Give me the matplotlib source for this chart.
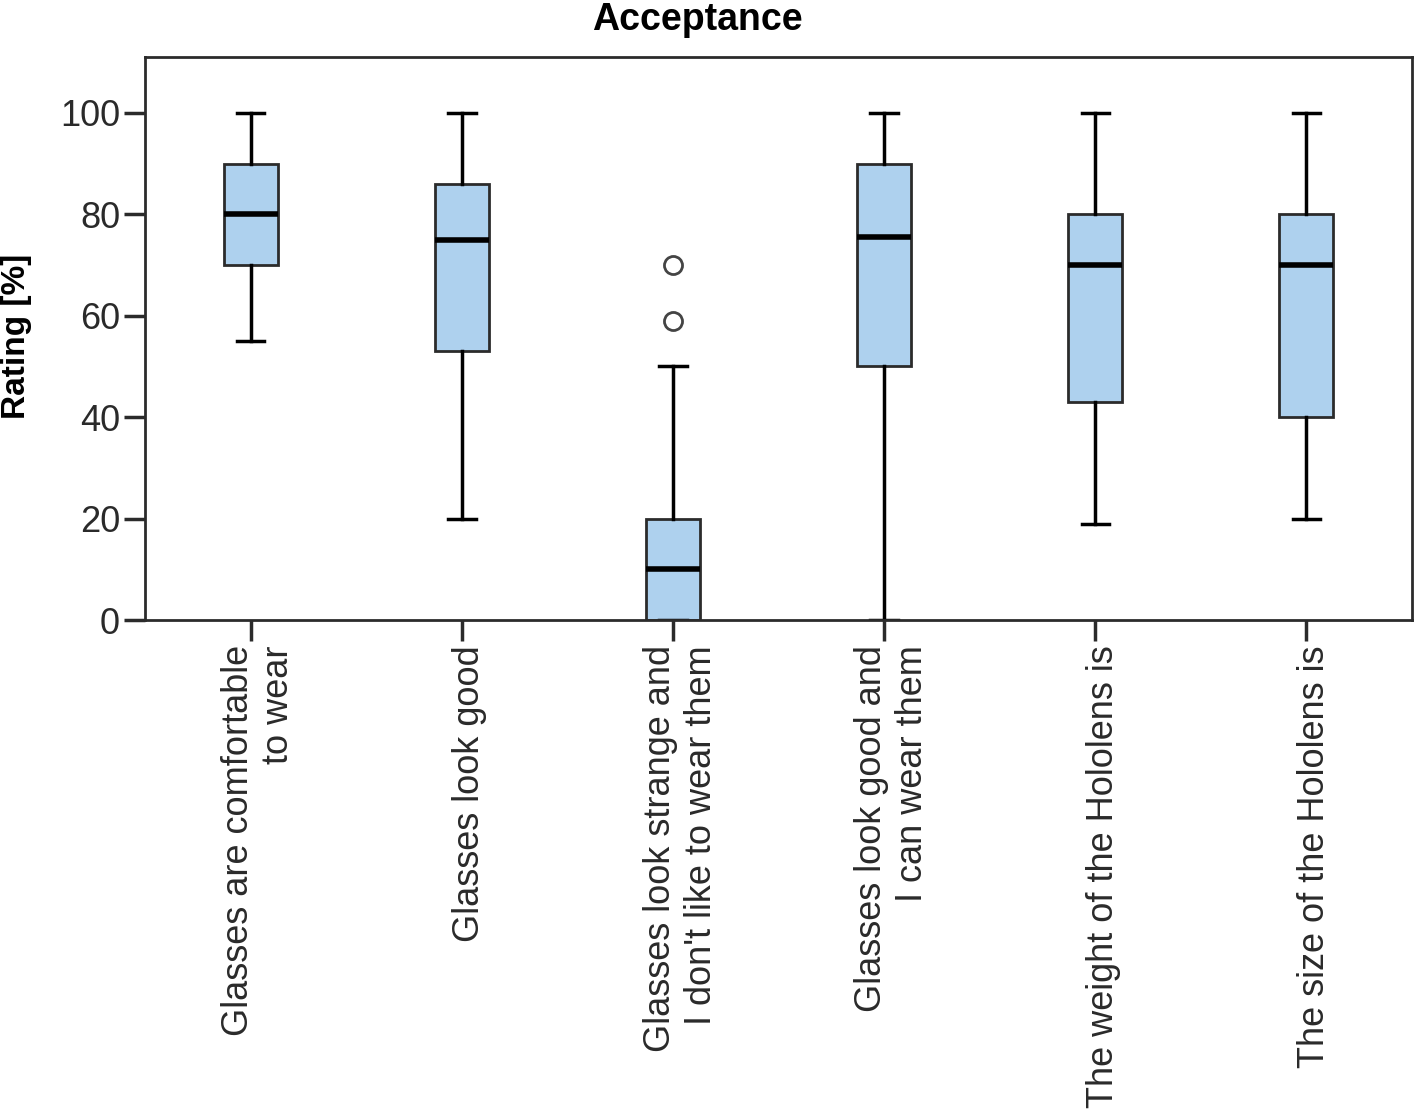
import matplotlib
matplotlib.use("Agg")
import matplotlib.pyplot as plt
import matplotlib.transforms as mtransforms

plt.rcParams['font.family'] = ['Liberation Sans', 'DejaVu Sans']

labels = [
    "Glasses are comfortable\nto wear",
    "Glasses look good",
    "Glasses look strange and\nI don't like to wear them",
    "Glasses look good and\nI can wear them",
    "The weight of the Hololens is",
    "The size of the Hololens is",
]
whislo = [55, 20, 0, 0, 19, 20]
q1 = [70, 53, 0, 50, 43, 40]
med = [80, 75, 10, 75.5, 70, 70]
q3 = [90, 86, 20, 90, 80, 80]
whishi = [100, 100, 50, 100, 100, 100]
fliers = [[], [], [59, 70], [], [], []]

stats = []
for i in range(len(labels)):
    stats.append(dict(whislo=whislo[i], q1=q1[i], med=med[i], q3=q3[i],
                      whishi=whishi[i], fliers=fliers[i], label=labels[i]))

fig = plt.figure(figsize=(14.18, 11.09), dpi=100)
ax = fig.add_axes([0.1023, 0.4409, 0.8935, 0.5077])

edge = "#2b2b2b"
ax.bxp(stats, widths=0.256, capwidths=0.13, patch_artist=True,
       boxprops=dict(facecolor="#aed1ee", edgecolor=edge, linewidth=2),
       medianprops=dict(color="black", linewidth=4),
       whiskerprops=dict(color="black", linewidth=2.5),
       capprops=dict(color="black", linewidth=2.5),
       flierprops=dict(marker="o", markersize=13, markerfacecolor="white",
                       markeredgecolor="#444444", markeredgewidth=2))

ax.set_xlim(0.5, 6.5)
ax.set_ylim(0, 111)
ax.set_yticks([0, 20, 40, 60, 80, 100])
for s in ax.spines.values():
    s.set_color(edge)
    s.set_linewidth(2)
ax.tick_params(axis="both", direction="out", length=15, width=2.5,
               color=edge, labelsize=26, labelcolor="#2a2a2a", pad=3)
ax.set_xticklabels(labels, rotation=90, ha="center", va="top",
                   multialignment="right")
# nudge the rotated labels a little to the right, as in the original
shift = mtransforms.ScaledTranslation(0.08, 0, fig.dpi_scale_trans)
for t in ax.get_xticklabels():
    t.set_transform(t.get_transform() + shift)

ax.set_ylabel("Rating [%]", fontsize=24, fontweight="bold")
ax.yaxis.set_label_coords(-0.089, 0.503)
fig.text(0.492, 0.982, "Acceptance", fontsize=27, fontweight="bold",
         ha="center", va="center")

fig.savefig("out.png", dpi=100)
